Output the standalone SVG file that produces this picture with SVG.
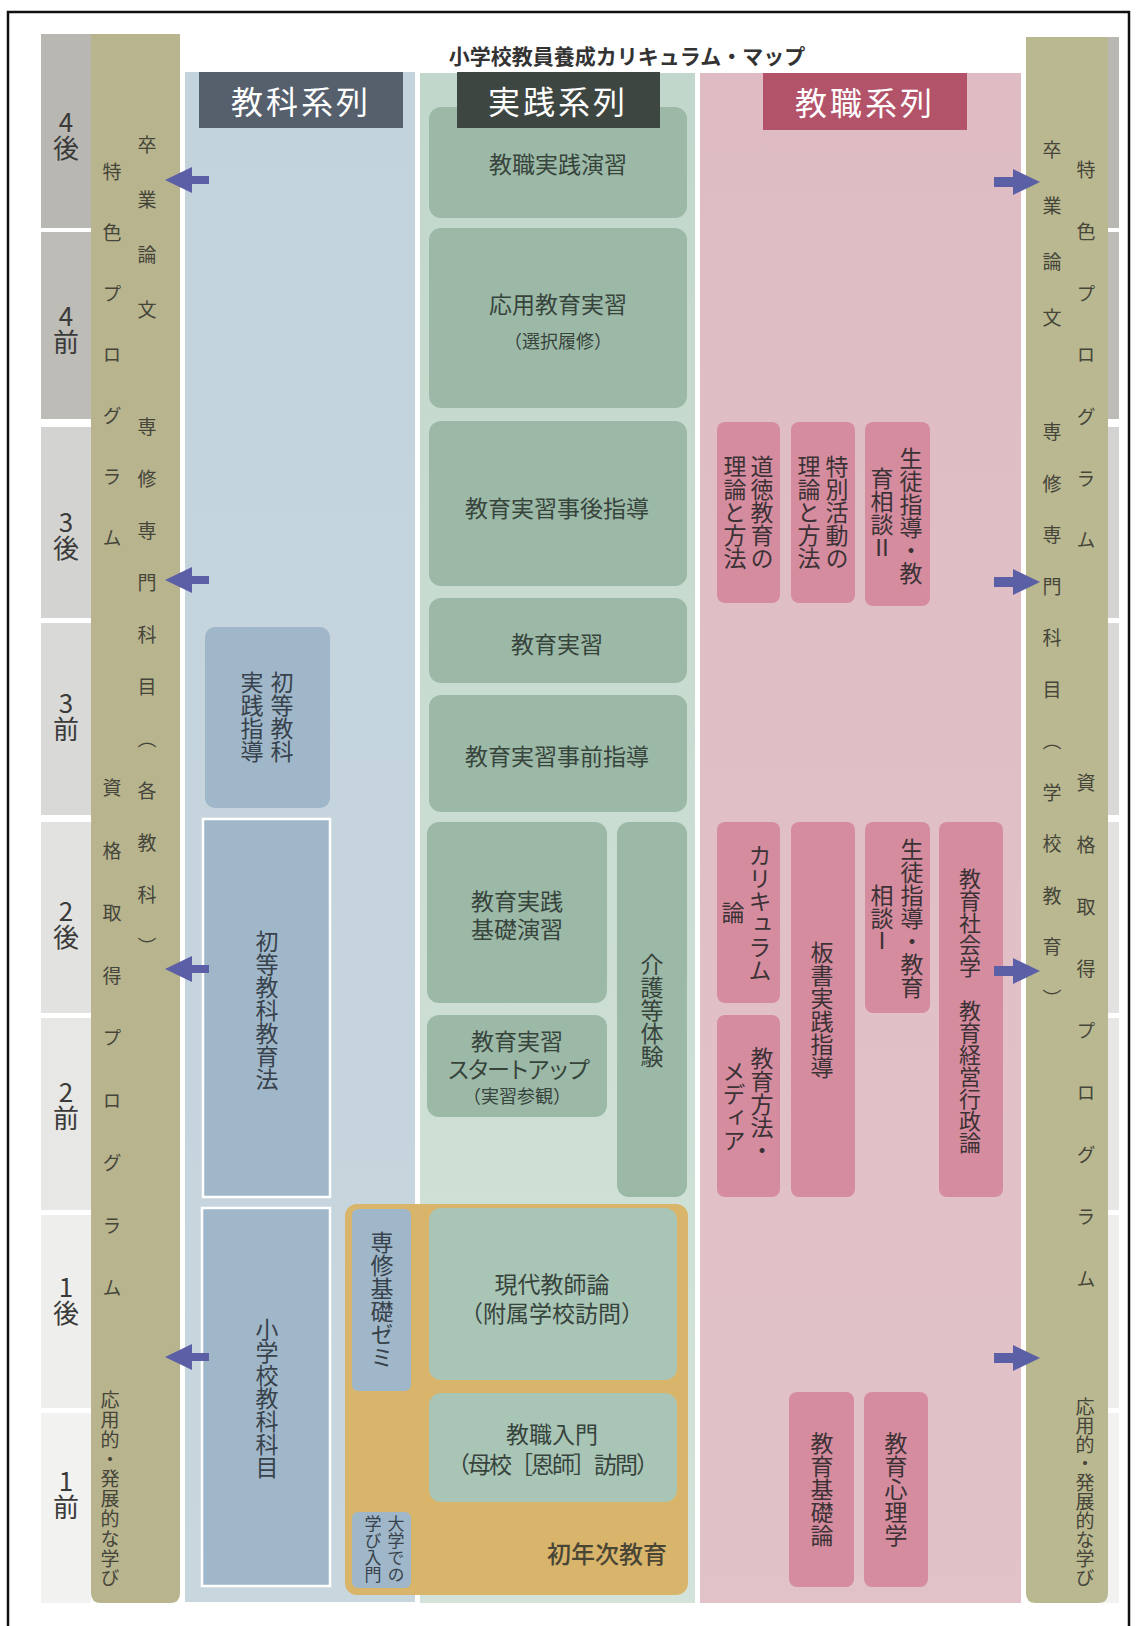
<svg xmlns="http://www.w3.org/2000/svg" width="1137" height="1626" viewBox="0 0 1137 1626">
<defs>
<style>
text{font-family:"Noto Sans CJK JP","Liberation Sans",sans-serif;}
.v{writing-mode:vertical-rl;}
.yr{font-size:26px;fill:#3a3a3a;text-anchor:middle;text-orientation:upright;writing-mode:vertical-rl;}
.ol{font-size:19px;fill:#45453a;}
.hd{font-size:32px;fill:#ffffff;text-anchor:middle;dominant-baseline:central;letter-spacing:3px;}
.gb{fill:#9cb9a7;}
.gt{font-size:23px;fill:#37443c;text-anchor:middle;dominant-baseline:central;}
.gs{font-size:18px;}
.pb{fill:#d48c9e;}
.pt{font-size:23px;fill:#3c3236;text-anchor:middle;}
.bb{fill:#9fb7c8;}
.bt{font-size:23px;fill:#38424c;text-anchor:middle;}
.arrow{fill:#5a5fa6;}
</style>
<linearGradient id="gGreen" x1="0" y1="0" x2="0" y2="1">
<stop offset="0" stop-color="#c2d7cb"/><stop offset="1" stop-color="#d3e3d9"/>
</linearGradient>
<linearGradient id="gBlue" x1="0" y1="0" x2="0" y2="1">
<stop offset="0" stop-color="#c3d3dc"/><stop offset="1" stop-color="#c8d6de"/>
</linearGradient>
<linearGradient id="gPink" x1="0" y1="0" x2="0" y2="1">
<stop offset="0" stop-color="#dfbcc4"/><stop offset="1" stop-color="#e2c2c9"/>
</linearGradient>
<polygon id="arrL" points="0,0 27,-13 27,-4 44,-4 44,4 27,4 27,13"/>
<polygon id="arrR" points="0,0 -27,-13 -27,-5 -46,-5 -46,5 -27,5 -27,13"/>
</defs>
<rect x="0" y="0" width="1137" height="1626" fill="#ffffff"/>

<!-- year column left -->
<g id="years-left">
<rect x="41" y="34" width="50" height="194" fill="#b8b7b2"/>
<rect x="41" y="232" width="50" height="187" fill="#bdbcb7"/>
<rect x="41" y="427" width="50" height="191" fill="#d3d3d1"/>
<rect x="41" y="623" width="50" height="192" fill="#d9d9d7"/>
<rect x="41" y="822" width="50" height="191" fill="#e2e2e0"/>
<rect x="41" y="1018" width="50" height="192" fill="#e7e7e5"/>
<rect x="41" y="1215" width="50" height="193" fill="#eeeeec"/>
<rect x="41" y="1413" width="50" height="190" fill="#f2f2f0"/>
<text class="yr" x="66" y="135.5">4後</text>
<text class="yr" x="66" y="329">4前</text>
<text class="yr" x="66" y="535.5">3後</text>
<text class="yr" x="66" y="716.5">3前</text>
<text class="yr" x="66" y="924">2後</text>
<text class="yr" x="66" y="1105.5">2前</text>
<text class="yr" x="66" y="1300.5">1後</text>
<text class="yr" x="66" y="1494">1前</text>
</g>

<!-- year strip right -->
<g id="years-right">
<rect x="1100" y="37" width="19" height="191" fill="#b8b7b2"/>
<rect x="1100" y="232" width="19" height="187" fill="#bdbcb7"/>
<rect x="1100" y="427" width="19" height="191" fill="#d3d3d1"/>
<rect x="1100" y="623" width="19" height="192" fill="#d9d9d7"/>
<rect x="1100" y="822" width="19" height="191" fill="#e2e2e0"/>
<rect x="1100" y="1018" width="19" height="192" fill="#e7e7e5"/>
<rect x="1100" y="1215" width="19" height="193" fill="#eeeeec"/>
<rect x="1100" y="1413" width="19" height="190" fill="#f2f2f0"/>
</g>

<!-- olive columns -->
<g id="olive-left">
<path d="M91,34 H180 V1593 Q180,1603 170,1603 H101 Q91,1603 91,1593 Z" fill="#b8b48e"/>
<text class="ol v" x="112" y="162.5" style="letter-spacing:42px">特色プログラム</text>
<text class="ol v" x="112" y="778.5" style="letter-spacing:43.5px">資格取得プログラム</text>
<text class="ol v" x="110" y="1390.5" style="letter-spacing:0.8px">応用的・発展的な学び</text>
<text class="ol v" x="147" y="135.5" style="letter-spacing:36px">卒業論文</text>
<text class="ol v" x="147" y="417.5" style="letter-spacing:33px">専修専門科目（各教科）</text>
</g>
<g id="olive-right">
<path d="M1026,37 H1108 V1593 Q1108,1603 1098,1603 H1036 Q1026,1603 1026,1593 Z" fill="#bab890"/>
<text class="ol v" x="1086" y="160.5" style="letter-spacing:42.7px">特色プログラム</text>
<text class="ol v" x="1086" y="773.5" style="letter-spacing:43px">資格取得プログラム</text>
<text class="ol v" x="1085" y="1397.5">応用的・発展的な学び</text>
<text class="ol v" x="1052" y="140.5" style="letter-spacing:37px">卒業論文</text>
<text class="ol v" x="1052" y="422.5" style="letter-spacing:32.5px">専修専門科目（学校教育）</text>
</g>

<!-- title -->
<text id="title" x="627" y="55" font-size="21" font-weight="700" text-anchor="middle" dominant-baseline="central" fill="#333333">小学校教員養成カリキュラム・マップ</text>

<!-- series backgrounds -->
<g id="series-kyoka">
<rect x="185" y="72" width="230" height="1530" fill="url(#gBlue)"/>
</g>
<g id="series-jissen">
<rect x="420" y="73" width="275" height="1530" fill="url(#gGreen)"/>
</g>
<g id="series-kyoshoku">
<rect x="700" y="73" width="321" height="1530" fill="url(#gPink)"/>
</g>

<!-- 教科系列 nodes -->
<g id="shoto-jissen">
<rect class="bb" x="205" y="627" width="125" height="181" rx="10"/>
<text class="bt v" x="282" y="717">初等教科</text>
<text class="bt v" x="252" y="717">実践指導</text>
</g>
<g id="shoto-kyoikuho">
<rect class="bb" x="203" y="819" width="127" height="378" stroke="#ffffff" stroke-width="2.5"/>
<text class="bt v" x="267" y="1010">初等教科教育法</text>
</g>
<g id="shogakko-kamoku">
<rect class="bb" x="202" y="1208" width="128" height="378" stroke="#ffffff" stroke-width="2.5"/>
<text class="bt v" x="267" y="1398">小学校教科科目</text>
</g>

<!-- 実践系列 nodes -->
<g id="kyoshoku-jissen-enshu">
<rect class="gb" x="429" y="107" width="258" height="111" rx="12"/>
<text class="gt" x="558" y="163">教職実践演習</text>
</g>
<g id="oyo-kyoiku-jisshu">
<rect class="gb" x="429" y="228" width="258" height="180" rx="12"/>
<text class="gt" x="558" y="303">応用教育実習<tspan class="gs" x="558" dy="37">（選択履修）</tspan></text>
</g>
<g id="jisshu-jigo">
<rect class="gb" x="429" y="421" width="258" height="165" rx="12"/>
<text class="gt" x="557" y="507">教育実習事後指導</text>
</g>
<g id="jisshu">
<rect class="gb" x="429" y="598" width="258" height="85" rx="12"/>
<text class="gt" x="557" y="643">教育実習</text>
</g>
<g id="jisshu-jizen">
<rect class="gb" x="429" y="695" width="258" height="117" rx="12"/>
<text class="gt" x="557" y="755">教育実習事前指導</text>
</g>
<g id="jissen-kiso">
<rect class="gb" x="427" y="822" width="180" height="181" rx="12"/>
<text class="gt" x="517" y="900">教育実践<tspan x="517" dy="28">基礎演習</tspan></text>
</g>
<g id="jisshu-startup">
<rect class="gb" x="427" y="1015" width="180" height="102" rx="12"/>
<text class="gt" x="517" y="1040">教育実習<tspan x="517" dy="28" style="letter-spacing:-3px">スタートアップ</tspan><tspan class="gs" x="517" dy="27">（実習参観）</tspan></text>
</g>
<g id="kaigo">
<rect class="gb" x="617" y="822" width="70" height="375" rx="12"/>
<text class="bt v" x="652" y="1010" style="fill:#37443c">介護等体験</text>
</g>

<!-- 初年次教育 -->
<g id="shonenji">
<rect x="345" y="1204" width="343" height="391" rx="12" fill="#d9b56b"/>
<text x="607" y="1552" font-size="24" font-weight="500" fill="#4a4636" text-anchor="middle" dominant-baseline="central">初年次教育</text>
</g>
<g id="senshu-kiso-zemi">
<rect class="bb" x="352" y="1209" width="59" height="182" rx="6"/>
<text class="bt v" x="382" y="1300">専修基礎ゼミ</text>
</g>
<g id="manabi-nyumon">
<rect class="bb" x="352" y="1512" width="59" height="76" rx="6"/>
<text class="bt v" x="396" y="1549" style="font-size:17px">大学での</text>
<text class="bt v" x="373" y="1549" style="font-size:17px">学び入門</text>
</g>
<g id="gendai-kyoshi">
<rect x="429" y="1208" width="248" height="172" rx="12" fill="#a9c5b6"/>
<text class="gt" x="552" y="1283">現代教師論<tspan x="552" dy="29">（附属学校訪問）</tspan></text>
</g>
<g id="kyoshoku-nyumon">
<rect x="429" y="1393" width="248" height="109" rx="12" fill="#a9c5b6"/>
<text class="gt" x="552" y="1433">教職入門<tspan x="552" dy="30" style="letter-spacing:-2px">（母校［恩師］訪問）</tspan></text>
</g>

<!-- 教職系列 nodes -->
<g id="dotoku">
<rect class="pb" x="717" y="422" width="63" height="181" rx="8"/>
<text class="pt v" x="762" y="512">道徳教育の</text>
<text class="pt v" x="735" y="512">理論と方法</text>
</g>
<g id="tokubetsu">
<rect class="pb" x="791" y="422" width="64" height="181" rx="8"/>
<text class="pt v" x="837" y="512">特別活動の</text>
<text class="pt v" x="809" y="512">理論と方法</text>
</g>
<g id="seito-2">
<rect class="pb" x="865" y="422" width="65" height="184" rx="8"/>
<text class="pt v" x="911" y="516">生徒指導・教</text>
<text class="pt v" x="882" y="513">育相談Ⅱ</text>
</g>
<g id="curriculum">
<rect class="pb" x="717" y="822" width="63" height="181" rx="8"/>
<text class="pt v" x="760" y="913">カリキュラム</text>
<text class="pt v" x="733" y="912">論</text>
</g>
<g id="hoho-media">
<rect class="pb" x="717" y="1015" width="63" height="182" rx="8"/>
<text class="pt v" x="762" y="1104">教育方法・</text>
<text class="pt v" x="734" y="1106">メディア</text>
</g>
<g id="bansho">
<rect class="pb" x="791" y="822" width="64" height="375" rx="8"/>
<text class="pt v" x="822" y="1010">板書実践指導</text>
</g>
<g id="seito-1">
<rect class="pb" x="865" y="822" width="65" height="191" rx="8"/>
<text class="pt v" x="912" y="918">生徒指導・教育</text>
<text class="pt v" x="882" y="918">相談Ⅰ</text>
</g>
<g id="shakai-keiei">
<rect class="pb" x="939" y="822" width="64" height="375" rx="8"/>
<text class="pt v" x="970" y="1011" style="font-size:22px">教育社会学　教育経営行政論</text>
</g>
<g id="kyoiku-kiso">
<rect class="pb" x="789" y="1392" width="65" height="195" rx="8"/>
<text class="pt v" x="822" y="1489">教育基礎論</text>
</g>
<g id="kyoiku-shinri">
<rect class="pb" x="864" y="1392" width="64" height="195" rx="8"/>
<text class="pt v" x="896" y="1489">教育心理学</text>
</g>

<!-- headers -->
<g id="hdr-kyoka">
<rect x="199" y="72" width="204" height="56" fill="#56606c"/>
<text class="hd" x="301" y="100">教科系列</text>
</g>
<g id="hdr-jissen">
<rect x="457" y="72" width="203" height="56" fill="#3e4641"/>
<text class="hd" x="558" y="100">実践系列</text>
</g>
<g id="hdr-kyoshoku">
<rect x="763" y="73" width="204" height="57" fill="#b3536a"/>
<text class="hd" x="865" y="101">教職系列</text>
</g>

<!-- connectors -->
<g id="connectors">
<use href="#arrL" class="arrow" x="165" y="180"/>
<use href="#arrL" class="arrow" x="165" y="580"/>
<use href="#arrL" class="arrow" x="165" y="969"/>
<use href="#arrL" class="arrow" x="165" y="1357"/>
<use href="#arrR" class="arrow" x="1040" y="182"/>
<use href="#arrR" class="arrow" x="1040" y="582"/>
<use href="#arrR" class="arrow" x="1040" y="971"/>
<use href="#arrR" class="arrow" x="1040" y="1358"/>
</g>

<!-- frame -->
<rect x="8" y="12" width="1121" height="1630" fill="none" stroke="#111111" stroke-width="2.5"/>
</svg>
